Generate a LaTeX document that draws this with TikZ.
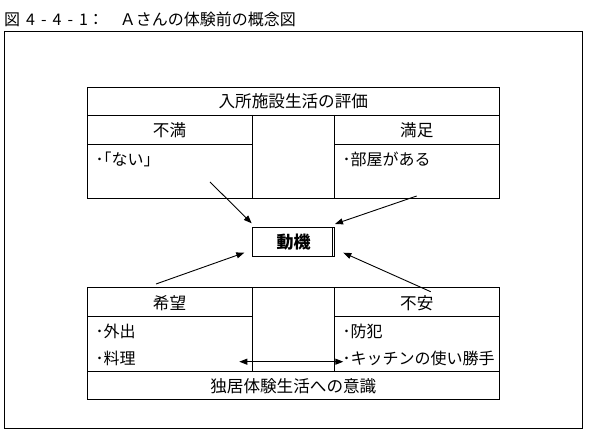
\documentclass[tikz,border=0pt]{standalone}
\usepackage{fontspec}
\setmainfont{Noto Sans CJK JP}
\usetikzlibrary{arrows.meta}
\tikzset{
  tline/.style={line width=0.9pt},
  txt/.style={inner sep=0pt, font=\fontsize{16}{18}\selectfont},
  head/.style={inner sep=0pt, font=\fontsize{16.6}{18}\selectfont},
  item/.style={txt, anchor=west},
  arr/.style={line width=0.9pt, -{Triangle[length=8pt,width=6pt]}},
  darr/.style={line width=0.9pt, {Triangle[length=8pt,width=6pt]}-{Triangle[length=8pt,width=6pt]}},
  motivebox/.style={draw, line width=1.6pt, minimum width=82pt, minimum height=29pt, inner sep=0pt,
    font=\fontsize{17}{19}\selectfont\bfseries}
}
\begin{document}
\begin{tikzpicture}[x=1pt,y=-1pt]
\useasboundingbox (0,0) rectangle (590,438);
% title
\node[txt, anchor=west] (title) at (4,19) {{\spaceskip=6pt 図 4 - 4 - 1：　Ａさんの体験前の概念図}};
% outer frame
\draw[tline] (4,31.3) rectangle (582,428);
% top table
\draw[tline] (87,87.5) rectangle (499.5,198.5);
\draw[tline] (87,115) -- (499.5,115);
\draw[tline] (87,144) -- (252.3,144);
\draw[tline] (334.3,144) -- (499.5,144);
\draw[tline] (252.3,115) -- (252.3,198.5);
\draw[tline] (334.3,115) -- (334.3,198.5);
\node[head] (eval) at (293.3,101.5) {入所施設生活の評価};
\node[head] (fuman) at (169.5,130) {不満};
\node[head] (manzoku) at (416.8,130) {満足};
\node[item] (nai) at (95.5,159.5) {･｢ない｣};
\node[item] (heya) at (342.5,159.5) {･部屋がある};
% bottom table
\draw[tline] (87,287.7) rectangle (499.5,399.3);
\draw[tline] (87,316.7) -- (252.3,316.7);
\draw[tline] (334.3,316.7) -- (499.5,316.7);
\draw[tline] (87,371.3) -- (499.5,371.3);
\draw[tline] (252.3,287.7) -- (252.3,371.3);
\draw[tline] (334.3,287.7) -- (334.3,371.3);
\node[head] (kibou) at (169.5,303) {希望};
\node[head] (fuan) at (416.8,303) {不安};
\node[item] (gaishutsu) at (95.5,331) {･外出};
\node[item] (ryouri) at (95.5,358) {･料理};
\node[item] (bouhan) at (342.5,331) {･防犯};
\node[item] (kitchen) at (342.5,358) {･キッチンの使い勝手};
\node[head] (ishiki) at (293.3,386) {独居体験生活への意識};
% motive box
\node[motivebox] (motive) at (293.5,242) {動機};
\draw[line width=0.6pt] ([xshift=-3pt,yshift=-1pt]motive.north east) -- ([xshift=-3pt,yshift=1pt]motive.south east);
% arrow coordinates
\coordinate (s1) at (210,182);
\coordinate (e1) at (251.7,223.3);
\coordinate (s2) at (416.7,196);
\coordinate (e2) at (335,224);
\coordinate (s3) at (156,284);
\coordinate (e3) at (244.3,252.7);
\coordinate (s4) at (430.7,291.7);
\coordinate (e4) at (343.3,252.7);
\coordinate (d1) at (239.3,361.7);
\coordinate (d2) at (343.3,361.7);
\draw[arr] (s1) -- (e1);
\draw[arr] (s2) -- (e2);
\draw[arr] (s3) -- (e3);
\draw[arr] (s4) -- (e4);
\draw[darr] (d1) -- (d2);
\end{tikzpicture}
\end{document}
